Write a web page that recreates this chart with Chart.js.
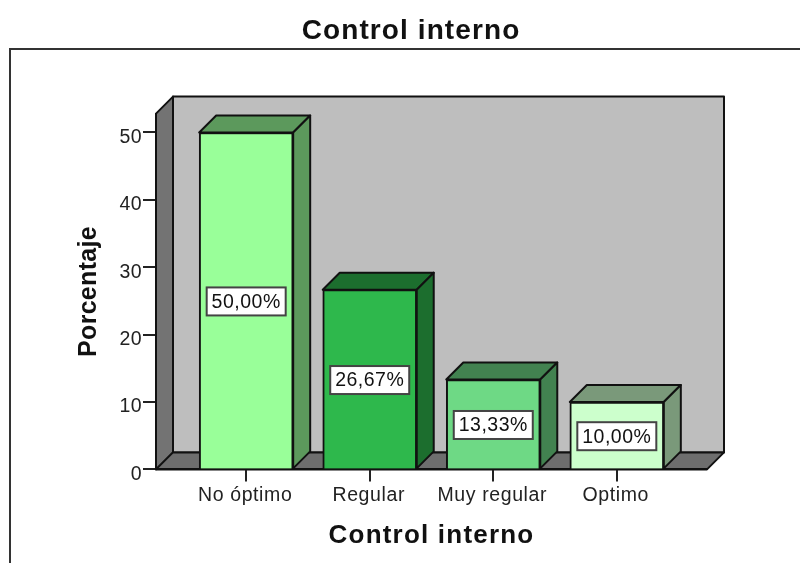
<!DOCTYPE html>
<html>
<head>
<meta charset="utf-8">
<style>
html,body{margin:0;padding:0;background:#fff;}
#wrap{width:800px;height:563px;position:relative;overflow:hidden;}
canvas{display:block;}
</style>
<script src="https://cdn.jsdelivr.net/npm/chart.js@4"></script>
</head>
<body>
<div id="wrap"><canvas id="c" width="800" height="563"></canvas></div>
<script>
const categories = ["No óptimo", "Regular", "Muy regular", "Optimo"];
const percentages = [50, 26.67, 13.33, 10];
const frontColors = ["#99ff99", "#2eb84c", "#6ed985", "#ccffcc"];
const sideColors  = ["#5c995c", "#1c6e2e", "#428250", "#7a997a"];
const yTicks = [0, 10, 20, 30, 40, 50];
const chartTitle = "Control interno";
const xTitle = "Control interno";
const yTitle = "Porcentaje";

const DEPTH = 17;
const FONT = "'Liberation Sans', Arial, sans-serif";

function poly(ctx, pts, fill) {
  ctx.beginPath();
  pts.forEach((p, i) => i ? ctx.lineTo(p[0], p[1]) : ctx.moveTo(p[0], p[1]));
  ctx.closePath();
  ctx.fillStyle = fill;
  ctx.fill();
  ctx.stroke();
}

// Runs one of a box's draw methods with the given tracking on the canvas text
function tracked(owner, method, spacing) {
  const draw = owner[method];
  owner[method] = function (...args) {
    const ctx = this.ctx;
    ctx.letterSpacing = spacing;
    draw.apply(this, args);
    ctx.letterSpacing = "0px";
  };
}

// Grey box behind the bars, plus the page frame around the plot
const box3d = {
  id: "box3d",
  afterLayout(chart) {
    chart.titleBlock.left = 22;
    chart.titleBlock.right = 800;
    tracked(chart.titleBlock, "draw", "1.1px");
    tracked(chart.scales.x, "drawTitle", "1.2px");
    tracked(chart.scales.y, "drawTitle", "0.3px");
    tracked(chart.scales.x, "drawLabels", "0.6px");
    tracked(chart.scales.y, "drawLabels", "0.4px");
  },
  beforeDraw(chart) {
    const ctx = chart.ctx;
    const { left, right, top, bottom } = chart.chartArea;
    ctx.save();
    ctx.lineWidth = 2;
    ctx.beginPath();
    ctx.moveTo(800, 49);
    ctx.lineTo(10, 49);
    ctx.lineTo(10, 563);
    ctx.strokeStyle = "#333";
    ctx.stroke();
    ctx.strokeStyle = "#111";
    ctx.lineJoin = "round";
    const d = DEPTH;
    poly(ctx, [[left + d, top - d], [right + d, top - d], [right + d, bottom - d], [left + d, bottom - d]], "#bebebe");
    poly(ctx, [[left, top], [left + d, top - d], [left + d, bottom - d], [left, bottom]], "#737373");
    poly(ctx, [[left, bottom], [left + d, bottom - d], [right + d, bottom - d], [right, bottom]], "#6e6e6e");
    ctx.restore();
  },
  beforeDatasetsDraw(chart) {
    const ctx = chart.ctx;
    const d = DEPTH;
    ctx.save();
    ctx.strokeStyle = "#111";
    ctx.lineWidth = 2;
    ctx.lineJoin = "round";
    chart.getDatasetMeta(0).data.forEach((bar, i) => {
      const l = bar.x - bar.width / 2, r = bar.x + bar.width / 2;
      poly(ctx, [[l, bar.y], [l + d, bar.y - d], [r + d, bar.y - d], [r, bar.y]], sideColors[i]);
      poly(ctx, [[r, bar.y], [r + d, bar.y - d], [r + d, bar.base - d], [r, bar.base]], sideColors[i]);
    });
    ctx.restore();
  },
  afterDatasetsDraw(chart) {
    const ctx = chart.ctx;
    ctx.save();
    ctx.font = "19.5px " + FONT;
    ctx.letterSpacing = "0.5px";
    ctx.textAlign = "center";
    ctx.textBaseline = "middle";
    chart.getDatasetMeta(0).data.forEach((bar, i) => {
      const text = percentages[i].toFixed(2).replace(".", ",") + "%";
      const w = 79, h = 28;
      const cy = (bar.y + bar.base) / 2 + 1;
      ctx.fillStyle = "#fff";
      ctx.strokeStyle = "#444";
      ctx.lineWidth = 2;
      ctx.fillRect(bar.x - w / 2, cy - h / 2, w, h);
      ctx.strokeRect(bar.x - w / 2, cy - h / 2, w, h);
      ctx.fillStyle = "#111";
      ctx.fillText(text, bar.x, cy + 1);
    });
    ctx.restore();
  }
};

new Chart(document.getElementById("c"), {
  type: "bar",
  data: {
    datasets: [{
      data: percentages.map((v, i) => ({ x: i, y: v })),
      backgroundColor: frontColors,
      borderColor: "#111",
      borderWidth: 2,
      barThickness: 94
    }]
  },
  plugins: [box3d],
  options: {
    responsive: false,
    animation: false,
    layout: { padding: { left: 74, right: 93, top: 0, bottom: 12 } },
    plugins: {
      legend: { display: false },
      tooltip: { enabled: false },
      title: {
        display: true,
        text: chartTitle,
        color: "#111",
        font: { family: FONT, size: 28, weight: "bold" },
        padding: { top: 14, bottom: 66 }
      }
    },
    scales: {
      x: {
        type: "linear",
        offset: false,
        min: -0.73,
        max: 3.73,
        afterBuildTicks(scale) { scale.ticks = categories.map((_, i) => ({ value: i })); },
        ticks: {
          callback: v => categories[v],
          autoSkip: false,
          maxRotation: 0,
          color: "#222",
          padding: 3,
          labelOffset: -1,
          font: { family: FONT, size: 19.5 }
        },
        grid: { offset: false, drawOnChartArea: false, color: "#222", lineWidth: 2, tickLength: 12 },
        border: { color: "#111", width: 2 },
        title: {
          display: true,
          text: xTitle,
          color: "#111",
          font: { family: FONT, size: 26, weight: "bold" },
          padding: { top: 9, bottom: 0 }
        }
      },
      y: {
        min: 0,
        max: 52.8,
        afterBuildTicks(scale) { scale.ticks = yTicks.map(v => ({ value: v })); },
        afterFit(scale) { scale.width = 82; },
        ticks: {
          color: "#222",
          padding: 1,
          labelOffset: 5,
          font: { family: FONT, size: 19.5 }
        },
        grid: { drawOnChartArea: false, color: "#222", lineWidth: 2, tickLength: 13 },
        border: { color: "#111", width: 2 },
        title: {
          display: true,
          text: yTitle,
          color: "#111",
          font: { family: FONT, size: 25, weight: "bold" },
          padding: { top: 0, bottom: 0 }
        }
      }
    }
  }
});
</script>
</body>
</html>
